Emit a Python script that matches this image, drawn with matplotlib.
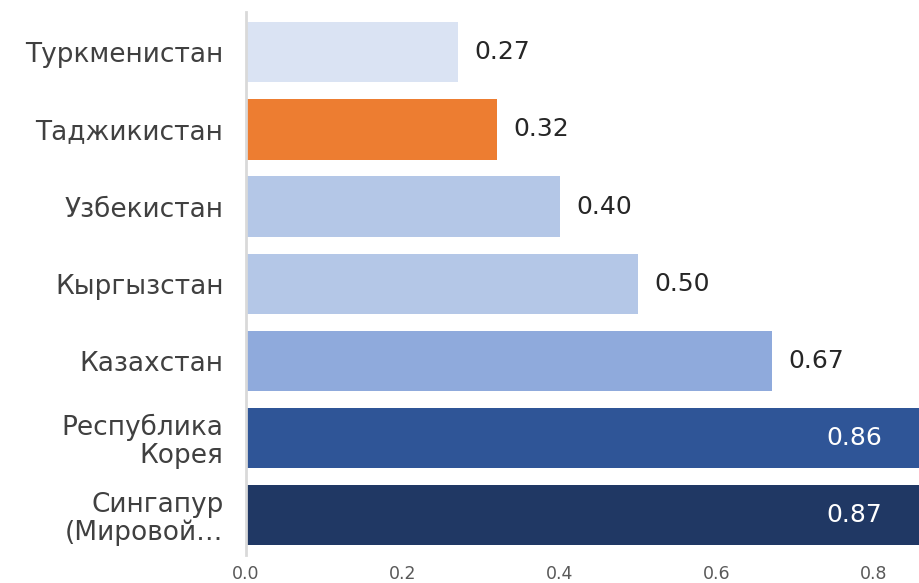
import matplotlib
matplotlib.use("Agg")
import matplotlib.pyplot as plt

categories = ["Туркменистан", "Таджикистан", "Узбекистан", "Кыргызстан",
              "Казахстан", "Республика\nКорея", "Сингапур\n(Мировой…"]
values = [0.27, 0.32, 0.40, 0.50, 0.67, 0.86, 0.87]
colors = ["#DAE3F3", "#ED7D31", "#B4C7E7", "#B4C7E7", "#8FAADC", "#2F5597", "#203864"]
xticks = [0.0, 0.2, 0.4, 0.6, 0.8]
xmax = 0.859

plt.rcParams['font.family'] = ['DejaVu Sans']

fig = plt.figure(figsize=(9.2, 5.83), dpi=100)
ax = fig.add_axes([0.267, 0.048, 0.733, 0.931])

ypos = list(range(len(categories)))
ax.barh(ypos, values, height=0.78, color=colors, edgecolor='none')
ax.set_ylim(len(categories) - 0.48, -0.52)
ax.set_xlim(0, xmax)

ax.set_yticks(ypos)
ax.set_yticklabels(categories, fontsize=19, color="#404040", linespacing=1.1)
ax.tick_params(axis='y', length=0, pad=16)
ax.set_xticks(xticks)
ax.set_xticklabels([f"{t:.1f}" for t in xticks], fontsize=12.5, color="#595959")
ax.tick_params(axis='x', length=0, pad=7)

for s in ['top', 'right', 'bottom']:
    ax.spines[s].set_visible(False)
ax.spines['left'].set_color("#D9D9D9")
ax.spines['left'].set_linewidth(2)

for y, v in zip(ypos, values):
    if v > 0.8:
        ax.annotate(f"{v:.2f}", xy=(min(v, xmax), y), xytext=(-27, 0),
                    textcoords='offset points', ha='right', va='center',
                    fontsize=18, color='white')
    else:
        ax.annotate(f"{v:.2f}", xy=(v, y), xytext=(12, 0),
                    textcoords='offset points', ha='left', va='center',
                    fontsize=18, color='#262626')

fig.savefig("out.png", dpi=100)
